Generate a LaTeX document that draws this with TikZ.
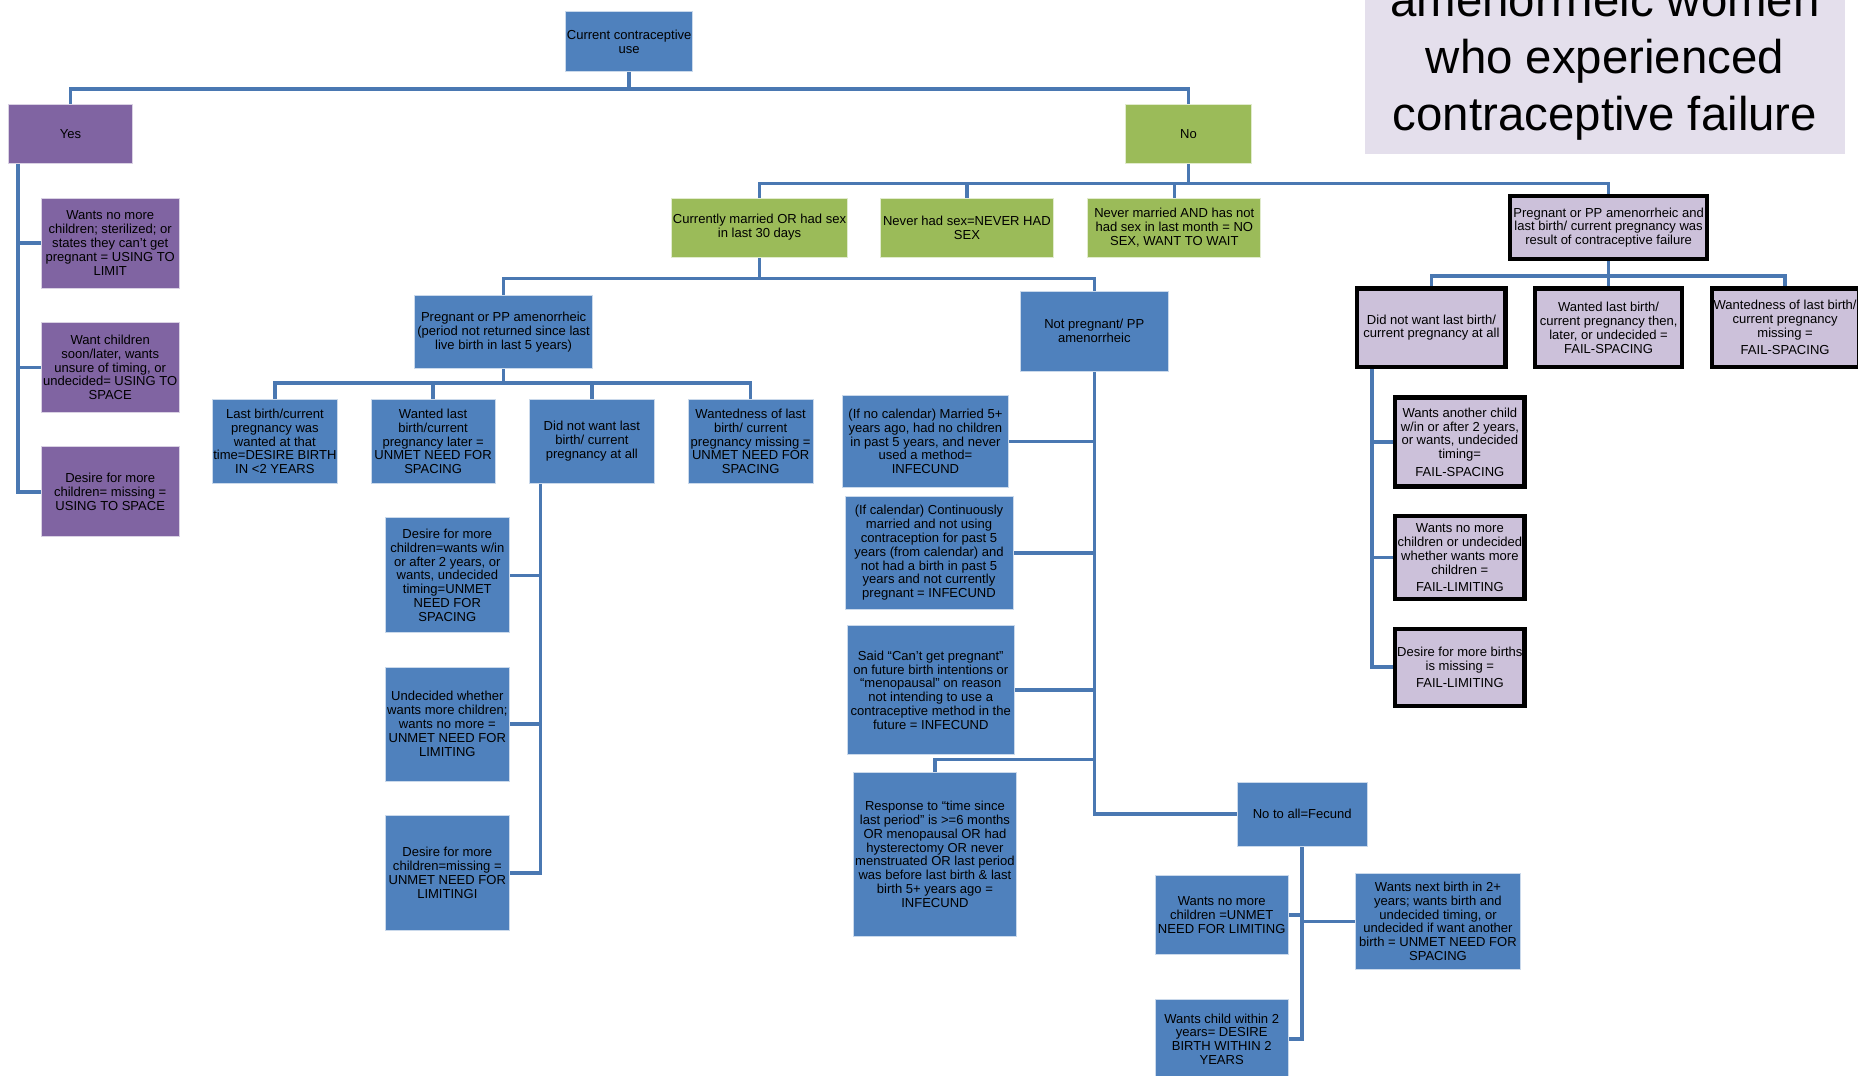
\documentclass[tikz,border=0pt]{standalone}
\usepackage{fontspec}
\setmainfont{Liberation Sans}
\usepackage{xcolor}
\usetikzlibrary{positioning,backgrounds}

\definecolor{boxblue}{HTML}{4F81BD}
\definecolor{boxpurple}{HTML}{8064A2}
\definecolor{boxgreen}{HTML}{9BBB59}
\definecolor{boxlilac}{HTML}{CCC1DA}
\definecolor{titlelilac}{HTML}{E4DFEC}
\definecolor{linkblue}{HTML}{4A78B2}

\begin{document}
\begin{tikzpicture}[x=1pt, y=-1pt]
                \tikzstyle{box} = [rectangle, inner sep=1pt, align=center, font=\fontsize{11}{11.7}\selectfont, draw=white!70!boxblue, line width=0.6pt]
                \tikzstyle{bluebox} = [box, fill=boxblue]
                \tikzstyle{purplebox} = [box, fill=boxpurple, draw=white!70!boxpurple]
                \tikzstyle{greenbox} = [box, fill=boxgreen, draw=white!70!boxgreen]
                \tikzstyle{failbox} = [box, fill=boxlilac, draw=black, line width=3.5pt]
                \tikzstyle{link} = [draw=linkblue, line width=3pt]
                \tikzset{sz/.style 2 args={minimum width=#1pt, minimum height=#2pt}}

                \useasboundingbox (0,0) rectangle (1568,908);
                \clip (0,0) rectangle (1568,908);

                \node [fill=titlelilac, sz={405}{130}] (title-box) at (1354.5,65) {};
                \node [font=\fontsize{40}{48}\selectfont, align=center] (title) at (1354.5,52) {amenorrheic women\\who experienced\\contraceptive failure};

                \node [bluebox, sz={106}{50}] (contra-use) at (531,35) {Current contraceptive\\use};
                \node [purplebox, sz={105}{50}] (yes) at (59.5,113) {Yes};
                \node [greenbox, sz={106}{50}] (no) at (1003,113) {No};

                \node [purplebox, sz={116}{76}] (limit-use) at (93,205) {Wants no more\\children; sterilized; or\\states they can’t get\\pregnant = USING TO\\LIMIT};
                \node [purplebox, sz={116}{76}] (space-use) at (93,310) {Want children\\soon/later, wants\\unsure of timing, or\\undecided= USING TO\\SPACE};
                \node [purplebox, sz={116}{76}] (missing-use) at (93,415) {Desire for more\\children= missing =\\USING TO SPACE};

                \node [greenbox, sz={146}{50}] (married) at (641,192) {Currently married OR had sex\\in last 30 days};
                \node [greenbox, sz={146}{50}] (never-sex) at (816,192) {Never had sex=NEVER HAD\\SEX};
                \node [greenbox, sz={146}{50}] (no-sex) at (991,192) {Never married AND has not\\had sex in last month = NO\\SEX, WANT TO WAIT};
                \node [failbox, sz={166}{53}] (fail) at (1357.5,192) {Pregnant or PP amenorrheic and\\last birth/ current pregnancy was\\result of contraceptive failure};

                \node [bluebox, sz={150}{62}] (preg) at (425,280) {Pregnant or PP amenorrheic\\(period not returned since last\\live birth in last 5 years)};
                \node [bluebox, sz={125}{67}] (not-preg) at (923.5,279.5) {Not pregnant/ PP\\amenorrheic};

                \node [bluebox, sz={106}{71}] (wanted-then) at (232,372.5) {Last birth/current\\pregnancy was\\wanted at that\\time=DESIRE BIRTH\\IN <2 YEARS};
                \node [bluebox, sz={105}{71}] (wanted-later) at (365.5,372.5) {Wanted last\\birth/current\\pregnancy later =\\UNMET NEED FOR\\SPACING};
                \node [bluebox, sz={105}{71}] (not-wanted) at (499.5,372.5) {Did not want last\\birth/ current\\pregnancy at all};
                \node [bluebox, sz={105}{71}] (wanted-missing) at (633.5,372.5) {Wantedness of last\\birth/ current\\pregnancy missing =\\UNMET NEED FOR\\SPACING};

                \node [bluebox, sz={105}{97}] (unmet-space) at (377.5,485.5) {Desire for more\\children=wants w/in\\or after 2 years, or\\wants, undecided\\timing=UNMET\\NEED FOR\\SPACING};
                \node [bluebox, sz={105}{96}] (undecided) at (377.5,611) {Undecided whether\\wants more children;\\wants no more =\\UNMET NEED FOR\\LIMITING};
                \node [bluebox, sz={105}{97}] (unmet-limit) at (377.5,736.5) {Desire for more\\children=missing =\\UNMET NEED FOR\\LIMITINGI};

                \node [bluebox, sz={140}{77}] (no-calendar) at (781,372.5) {(If no calendar) Married 5+\\years ago, had no children\\in past 5 years, and never\\used a method=\\INFECUND};
                \node [bluebox, sz={142}{95}] (calendar) at (784,466.5) {(If calendar) Continuously\\married and not using\\contraception for past 5\\years (from calendar) and\\not had a birth in past 5\\years and not currently\\pregnant = INFECUND};
                \node [bluebox, sz={141}{109}] (cant-preg) at (785.5,582.5) {Said “Can’t get pregnant”\\on future birth intentions or\\“menopausal” on reason\\not intending to use a\\contraceptive method in the\\future = INFECUND};
                \node [bluebox, sz={138}{138}] (period) at (789,721) {Response to “time since\\last period” is >=6 months\\OR menopausal OR  had\\hysterectomy OR never\\menstruated OR last period\\was before last birth \& last\\birth 5+ years ago =\\INFECUND};

                \node [bluebox, sz={110}{54}] (fecund) at (1099,687) {No to all=Fecund};
                \node [bluebox, sz={112}{66}] (no-more) at (1031,772) {Wants no more\\children =UNMET\\NEED FOR LIMITING};
                \node [bluebox, sz={139}{81}] (next-birth) at (1213.5,777.5) {Wants next birth in 2+\\years; wants birth and\\undecided timing, or\\undecided if want another\\birth = UNMET NEED FOR\\SPACING};
                \node [bluebox, sz={112}{68}] (within-two) at (1031,877) {Wants child within 2\\years= DESIRE\\BIRTH WITHIN 2\\YEARS};

                \node [failbox, sz={125}{66}] (fail-not-wanted) at (1208,276.5) {Did not want  last birth/\\current pregnancy at all};
                \node [failbox, sz={124}{66}] (fail-wanted) at (1357.5,276.5) {Wanted last birth/\\current pregnancy then,\\later, or undecided =\\FAIL-SPACING};
                \node [failbox, sz={124}{66}] (fail-missing) at (1506.5,276.5) {Wantedness of last birth/\\current pregnancy\\missing =\\[3pt]FAIL-SPACING};

                \node [failbox, sz={109}{75}] (fail-space) at (1232,373) {Wants another child\\w/in or after 2 years,\\or wants, undecided\\timing=\\[3pt]FAIL-SPACING};
                \node [failbox, sz={109}{70}] (fail-limit) at (1232,470.5) {Wants no more\\children or undecided\\whether wants more\\children =\\[3pt]FAIL-LIMITING};
                \node [failbox, sz={109}{65}] (fail-unknown) at (1232,563) {Desire for more births\\is missing =\\[3pt]FAIL-LIMITING};

                \coordinate (bar-top) at (0,75);
                \coordinate (bar-no) at (0,155);
                \coordinate (bar-married) at (0,235);
                \coordinate (bar-preg) at (0,323);
                \coordinate (bar-fail) at (0,233);
                \coordinate (bar-period) at (0,641);
                \coordinate (yes-x) at (15,0);
                \coordinate (not-wanted-x) at (456,0);
                \coordinate (fail-x) at (1158,0);

                \begin{scope}[on background layer]
                \draw [link] (contra-use.south) -- (contra-use.south |- bar-top) -| (yes.north);
                \draw [link] (contra-use.south |- bar-top) -| (no.north);

                \draw [link] (yes.south -| yes-x) |- (limit-use.west);
                \draw [link] (yes.south -| yes-x) |- (space-use.west);
                \draw [link] (yes.south -| yes-x) |- (missing-use.west);

                \draw [link] (no.south) -- (no.south |- bar-no) -| (married.north);
                \draw [link] (no.south |- bar-no) -| (never-sex.north);
                \draw [link] (no.south |- bar-no) -| (no-sex.north);
                \draw [link] (no.south |- bar-no) -| (fail.north);

                \draw [link] (married.south) -- (married.south |- bar-married) -| (preg.north);
                \draw [link] (married.south |- bar-married) -| (not-preg.north);

                \draw [link] (preg.south) -- (preg.south |- bar-preg) -| (wanted-then.north);
                \draw [link] (preg.south |- bar-preg) -| (wanted-later.north);
                \draw [link] (preg.south |- bar-preg) -| (not-wanted.north);
                \draw [link] (preg.south |- bar-preg) -| (wanted-missing.north);

                \draw [link] (not-wanted.south -| not-wanted-x) |- (unmet-space.east);
                \draw [link] (not-wanted.south -| not-wanted-x) |- (undecided.east);
                \draw [link] (not-wanted.south -| not-wanted-x) |- (unmet-limit.east);

                \draw [link] (not-preg.south) |- (no-calendar.east);
                \draw [link] (not-preg.south) |- (calendar.east);
                \draw [link] (not-preg.south) |- (cant-preg.east);
                \draw [link] (not-preg.south) -- (not-preg.south |- bar-period) -| (period.north);
                \draw [link] (not-preg.south) |- (fecund.west);

                \draw [link] (fecund.south) |- (no-more.east);
                \draw [link] (fecund.south) |- (next-birth.west);
                \draw [link] (fecund.south) |- (within-two.east);

                \draw [link] (fail.south) -- (fail.south |- bar-fail) -| (fail-not-wanted.north);
                \draw [link] (fail.south |- bar-fail) -| (fail-wanted.north);
                \draw [link] (fail.south |- bar-fail) -| (fail-missing.north);

                \draw [link] (fail-not-wanted.south -| fail-x) |- (fail-space.west);
                \draw [link] (fail-not-wanted.south -| fail-x) |- (fail-limit.west);
                \draw [link] (fail-not-wanted.south -| fail-x) |- (fail-unknown.west);
                \end{scope}
\end{tikzpicture}
\end{document}
